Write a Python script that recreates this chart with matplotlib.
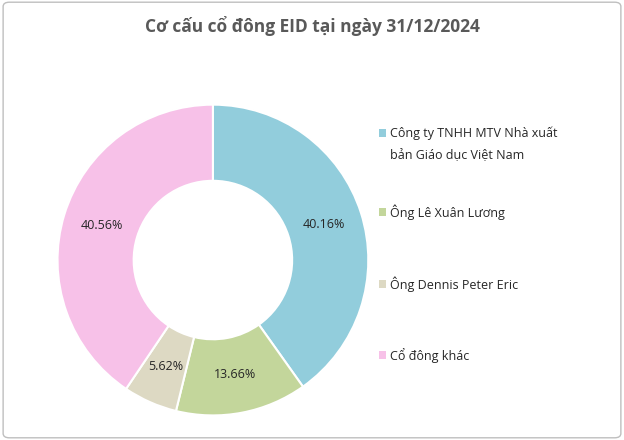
import matplotlib
matplotlib.use("Agg")
import matplotlib.pyplot as plt
from matplotlib.patches import Rectangle, FancyBboxPatch

title = "Cơ cấu cổ đông EID tại ngày 31/12/2024"
labels = ["Công ty TNHH MTV Nhà xuất\nbản Giáo dục Việt Nam", "Ông Lê Xuân Lương",
          "Ông Dennis Peter Eric", "Cổ đông khác"]
values = [40.16, 13.66, 5.62, 40.56]
colors = ["#92CDDC", "#C3D69B", "#DDD9C3", "#F7C1E8"]

plt.rcParams['font.family'] = ['Open Sans', 'DejaVu Sans']
fig = plt.figure(figsize=(6.24, 4.4), dpi=100)
fig.patches.append(FancyBboxPatch((0.005, 0.005), 0.99, 0.99, boxstyle="round,pad=0,rounding_size=0.01",
                                  transform=fig.transFigure, fill=False, edgecolor="#BFBFBF", linewidth=1))
fig.text(0.5, 0.94, title, ha="center", va="center", fontsize=12.5, fontweight="bold", color="#595959")

ax = fig.add_axes([0.0897, 0.052, 0.503, 0.714])
wedges, texts, autotexts = ax.pie(values, colors=colors, startangle=90, counterclock=False,
                                  autopct=lambda p: f"{p:.2f}%", pctdistance=0.75,
                                  wedgeprops=dict(width=0.49, edgecolor="white", linewidth=1.5),
                                  textprops=dict(fontsize=9, color="#262626"))
ax.set_xlim(-1.01, 1.01)
ax.set_ylim(-1.01, 1.01)
ax.set_aspect("equal")

ys = [0.665, 0.518, 0.355, 0.193]
for lab, c, y in zip(labels, colors, ys):
    first = lab.split("\n")[0]
    fig.patches.append(Rectangle((0.607, y + (0.033 if "\n" in lab else 0) - 0.009), 0.011, 0.018,
                                 transform=fig.transFigure, facecolor=c, edgecolor="none"))
    fig.text(0.625, y + (0.033 if "\n" in lab else 0), first, ha="left", va="center", fontsize=9, color="#262626")
    if "\n" in lab:
        fig.text(0.625, y - 0.018, lab.split("\n")[1], ha="left", va="center", fontsize=9, color="#262626")

fig.savefig("out.png", dpi=100)
